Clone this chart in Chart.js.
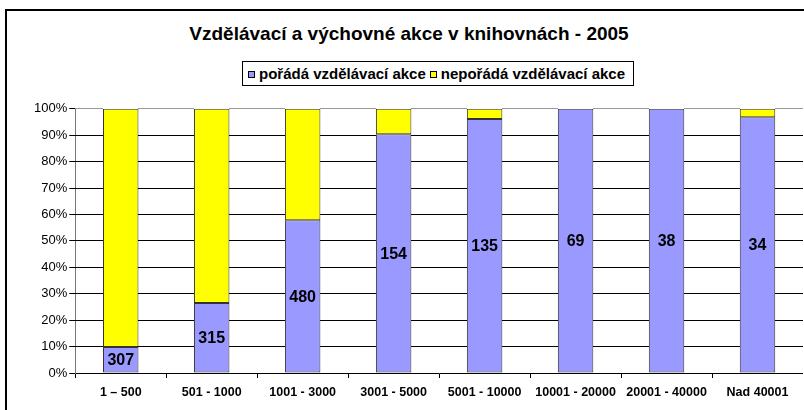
<!DOCTYPE html>
<html>
<head>
<meta charset="utf-8">
<script src="https://cdn.jsdelivr.net/npm/chart.js@4/dist/chart.umd.min.js"></script>
<style>
  html, body { margin:0; padding:0; background:#fff; overflow:hidden; width:804px; height:410px; }
  #frame { position:absolute; left:5px; top:9px; width:900px; height:500px;
           border-left:2px solid #000; border-top:2px solid #000; }
  #title { position:absolute; left:0; top:22px; width:818px; text-align:center;
           font:bold 19px 'Liberation Sans', Arial, sans-serif; line-height:23px; color:#000; }
  #legend { position:absolute; left:242px; top:61px; height:25px; box-sizing:border-box;
            border:1px solid #000; background:#fff; padding:0 8px 0 5px; white-space:nowrap;
            font:bold 15px 'Liberation Sans', Arial, sans-serif; line-height:23px; color:#000; }
  #legend .mk { display:inline-block; width:5px; height:5px; border:1px solid #000;
                margin-right:4px; vertical-align:1px; }
  #legend .it { margin-right:4px; }
  #legend .it:last-child { margin-right:0; }
  #probe { position:absolute; left:-3000px; top:0; }
  #chart { position:absolute; left:0; top:0; }
  #gridlines { position:absolute; left:0; top:0; width:0; height:0; }
</style>
</head>
<body>
<div id="frame"></div>
<div id="title"></div>
<div id="legend"></div>
<canvas id="probe" width="760" height="300"></canvas>
<canvas id="chart"></canvas>
<div id="gridlines"></div>
<script>
var chartTitle   = 'Vzdělávací a výchovné akce v knihovnách - 2005';
var categories   = ['1 – 500', '501 - 1000', '1001 - 3000', '3001 - 5000',
                    '5001 - 10000', '10001 - 20000', '20001 - 40000', 'Nad 40001'];
var poradaPct    = [9.8, 26.5, 57.8, 90.4, 96.1, 100, 100, 96.8];
var neporadaPct  = [90.2, 73.5, 42.2, 9.6, 3.9, 0, 0, 3.2];
var poradaCounts = [307, 315, 480, 154, 135, 69, 38, 34];
var seriesNames  = ['pořádá vzdělávací akce', 'nepořádá vzdělávací akce'];
var seriesColors = ['#9999FF', '#FFFF00'];
var yTicks       = [0, 10, 20, 30, 40, 50, 60, 70, 80, 90, 100];

var FONT = "'Liberation Sans', Arial, sans-serif";
// where the plot area sits in the picture
var AREA = { left:75, top:109, width:728, height:264 };

document.getElementById('title').textContent = chartTitle;
var legendEl = document.getElementById('legend');
seriesNames.forEach(function(name, i){
  var it = document.createElement('span');
  it.className = 'it';
  var mk = document.createElement('span');
  mk.className = 'mk';
  mk.style.background = seriesColors[i];
  it.appendChild(mk);
  it.appendChild(document.createTextNode(name));
  legendEl.appendChild(it);
});

// counts printed in the middle of the blue part
var countLabels = {
  id:'countLabels',
  afterDatasetsDraw: function(chart){
    var ctx = chart.ctx;
    var meta = chart.getDatasetMeta(0);
    ctx.save();
    ctx.font = 'bold 16px ' + FONT;
    ctx.fillStyle = '#000';
    ctx.textAlign = 'center';
    ctx.textBaseline = 'middle';
    meta.data.forEach(function(bar, i){
      var p = bar.getProps(['x','y','base'], true);
      ctx.fillText(String(poradaCounts[i]), p.x, (p.y + p.base)/2 + 1);
    });
    ctx.restore();
  }
};

function makeConfig(){
  return {
    type:'bar',
    data:{
      labels: categories.slice(),
      datasets:[
        { label: seriesNames[0], data: poradaPct.slice(), backgroundColor: seriesColors[0],
          borderColor:'#333', borderWidth:1, borderSkipped:false },
        { label: seriesNames[1], data: neporadaPct.slice(), backgroundColor: seriesColors[1],
          borderColor:'#333', borderWidth:1, borderSkipped:false }
      ]
    },
    options:{
      responsive:false,
      animation:false,
      maintainAspectRatio:false,
      datasets:{ bar:{ categoryPercentage:1, barPercentage:0.39 } },
      plugins:{ legend:{ display:false }, tooltip:{ enabled:false }, title:{ display:false } },
      scales:{
        x:{
          stacked:true,
          grid:{ offset:true, drawOnChartArea:false, color:'#000', tickLength:5 },
          border:{ color:'#000', width:1 },
          ticks:{ color:'#000', font:{ family:FONT, size:12.5, weight:'bold' }, padding:7,
                  maxRotation:0, autoSkip:false }
        },
        y:{
          stacked:true,
          min:0, max:100,
          afterBuildTicks: function(s){ s.ticks = yTicks.map(function(v){ return {value:v}; }); },
          grid:{ color:'#000', tickColor:'#000', tickLength:6, drawOnChartArea:false },
          border:{ color:'#777', width:1 },
          ticks:{ color:'#000', font:{ family:FONT, size:13 }, padding:2, autoSkip:false,
                  callback:function(v){ return v + '%'; } }
        }
      }
    },
    plugins:[countLabels]
  };
}

// measure the axes once, then size and place the real canvas
var probe = new Chart(document.getElementById('probe'), makeConfig());
var pa = probe.chartArea;
var cw = Math.round(probe.width + AREA.width - (pa.right - pa.left));
var chh = Math.round(probe.height + AREA.height - (pa.bottom - pa.top));
probe.destroy();

var cv = document.getElementById('chart');
cv.width = cw;
cv.height = chh;
var chart = new Chart(cv, makeConfig());
var a = chart.chartArea;
var offL = Math.round(AREA.left - a.left), offT = Math.round(AREA.top - a.top);
cv.style.left = offL + 'px';
cv.style.top = offT + 'px';

// horizontal gridlines between the bars, rows taken from the y scale
var lineBox = document.getElementById('gridlines');
var ys = chart.scales.y;
var segs = [], segLeft = a.left;
chart.getDatasetMeta(0).data.forEach(function(b){
  var p = b.getProps(['x','width'], true);
  segs.push([segLeft, p.x - p.width/2]);
  segLeft = p.x + p.width/2;
});
segs.push([segLeft, a.right]);
yTicks.forEach(function(v){
  if (v === 0) return;
  var row = Math.round(ys.getPixelForValue(v) - 0.5) + offT;
  segs.forEach(function(s){
    var x0 = Math.round(s[0] + offL), x1 = Math.round(s[1] + offL);
    if (x1 <= x0) return;
    var d = document.createElement('div');
    d.style.cssText = 'position:absolute;height:1px;left:' + x0 + 'px;top:' + row +
      'px;width:' + (x1 - x0) + 'px;background:' + (v === 100 ? '#999' : '#000');
    lineBox.appendChild(d);
  });
});
</script>
</body>
</html>
